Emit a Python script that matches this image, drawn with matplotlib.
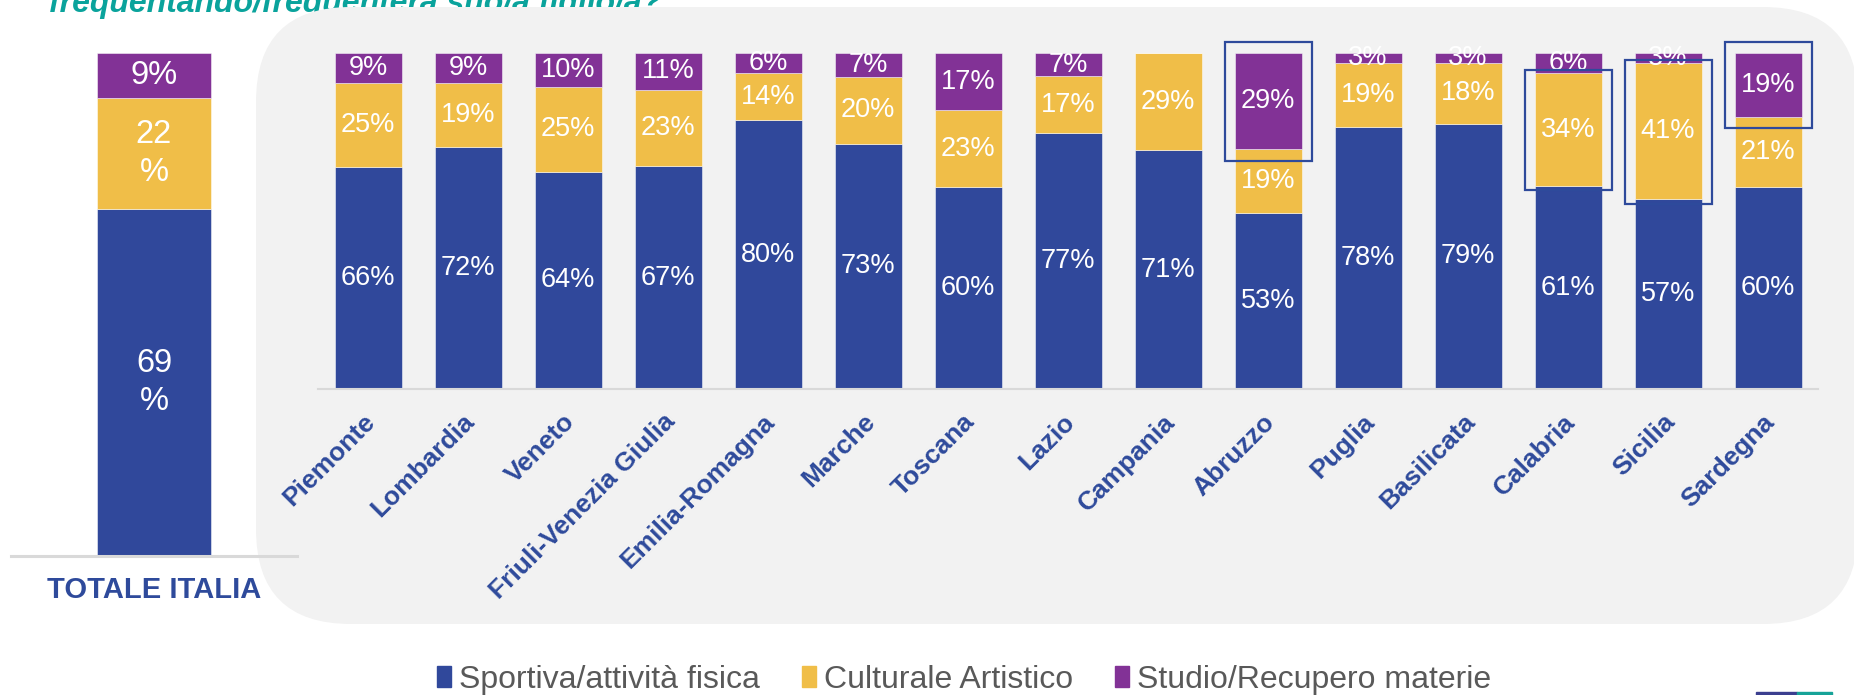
import matplotlib
matplotlib.use("Agg")
import matplotlib.pyplot as plt
import numpy as np
from matplotlib.patches import FancyBboxPatch, Rectangle, Patch
from matplotlib.transforms import IdentityTransform, ScaledTranslation

plt.rcParams['font.family'] = ['Liberation Sans', 'DejaVu Sans']

# dati
regioni = ["Piemonte", "Lombardia", "Veneto", "Friuli-Venezia Giulia", "Emilia-Romagna",
           "Marche", "Toscana", "Lazio", "Campania", "Abruzzo", "Puglia", "Basilicata",
           "Calabria", "Sicilia", "Sardegna"]
sportiva = [66, 72, 64, 67, 80, 73, 60, 77, 71, 53, 78, 79, 61, 57, 60]
culturale = [25, 19, 25, 23, 14, 20, 23, 17, 29, 19, 19, 18, 34, 41, 21]
studio = [9, 9, 10, 11, 6, 7, 17, 7, 0, 29, 3, 3, 6, 3, 19]
totale_italia = [69, 22, 9]
serie = ["Sportiva/attività fisica", "Culturale Artistico", "Studio/Recupero materie"]
evidenziati = [("Abruzzo", 2), ("Calabria", 1), ("Sicilia", 1), ("Sardegna", 2)]
titolo = "frequentando/frequenterà suo/a figlio/a?"

colori = ["#30489b", "#f0be48", "#823296"]
blu = "#2e4a9b"
W, H = 1854, 695

fig = plt.figure(figsize=(W / 100, H / 100), dpi=100)

# titolo (tagliato in alto, coperto in parte dal pannello)
fig.text(49 / W, 1 - 12 / H, titolo, fontsize=23, fontweight="bold", fontstyle="italic",
         color="#0aa39c", va="baseline", zorder=-2)

# pannello grigio arrotondato
pannello = FancyBboxPatch((256, 71), 1858 - 256, 617, boxstyle="round,pad=0,rounding_size=95",
                          transform=IdentityTransform(), fc="#f2f2f2", ec="none", zorder=-1)
fig.add_artist(pannello)

# grafico regioni
axR = fig.add_axes([318 / W, 306 / H, 1500 / W, 336 / H])
axR.patch.set_visible(False)
valori = np.array([sportiva, culturale, studio], dtype=float)
norm = valori / valori.sum(axis=0) * 100
x = np.arange(len(regioni))
base = np.zeros(len(regioni))
limiti = []
for k in range(3):
    axR.bar(x, norm[k], 0.67, bottom=base, color=colori[k], edgecolor="#ffffff80", linewidth=0.7)
    limiti.append((base.copy(), base + norm[k]))
    for i in range(len(regioni)):
        v = valori[k][i]
        if v > 0:
            axR.text(x[i], base[i] + norm[k][i] / 2, f"{int(v)}%", ha="center", va="center",
                     color="white", fontsize=19.5)
    base = base + norm[k]

for reg, k in evidenziati:
    i = regioni.index(reg)
    lo, hi = limiti[k][0][i], limiti[k][1][i]
    pt, pb = (3.2, 3.4) if k == 2 else (0.9, 1.3)
    axR.add_patch(Rectangle((i - 0.435, lo - pb), 0.87, hi - lo + pt + pb, fill=False,
                            ec=blu, lw=1.6, clip_on=False, zorder=5))

axR.set_xlim(-0.5, len(regioni) - 0.5)
axR.set_ylim(0, 100)
axR.set_yticks([])
for s in ["top", "left", "right"]:
    axR.spines[s].set_visible(False)
axR.spines["bottom"].set_color("#d9d9d9")
axR.spines["bottom"].set_linewidth(1.5)
axR.set_xticks(x, regioni, rotation=45, ha="right", va="center", rotation_mode="anchor",
               fontsize=19, fontweight="bold", color=blu)
axR.tick_params(axis="x", length=0, pad=21)
for lbl in axR.get_xticklabels():
    lbl.set_transform(lbl.get_transform() + ScaledTranslation(3 / 100, 0, fig.dpi_scale_trans))

# totale italia
axL = fig.add_axes([11 / W, 139 / H, 286 / W, 503 / H])
axL.patch.set_visible(False)
b = 0
for k in range(3):
    v = totale_italia[k]
    axL.bar(0, v, 0.8, bottom=b, color=colori[k], edgecolor="#ffffff80", linewidth=0.7)
    etichetta = f"{v}%" if v < 10 else f"{v}\n%"
    axL.text(0, b + v / 2, etichetta, ha="center", va="center", color="white", fontsize=23.5,
             linespacing=1.3)
    b += v
axL.set_xlim(-1, 1)
axL.set_ylim(0, 100)
axL.set_xticks([])
axL.set_yticks([])
for s in ["top", "left", "right"]:
    axL.spines[s].set_visible(False)
axL.spines["bottom"].set_color("#d9d9d9")
axL.spines["bottom"].set_linewidth(2.2)
fig.text(154 / W, 1 - 590 / H, "TOTALE ITALIA", ha="center", va="center", fontsize=21,
         fontweight="bold", color=blu)

# legenda
maniglie = [Patch(color=c) for c in colori]
fig.legend(maniglie, serie, loc="center", bbox_to_anchor=(0.52, 0.022), ncol=3, frameon=False,
           fontsize=23, handlelength=0.45, handleheight=0.6, handletextpad=0.25,
           columnspacing=1.3, labelcolor="#595959", borderpad=0)

# logo in basso
fig.add_artist(Rectangle((1756 / W, 0), 41 / W, 3 / H, transform=fig.transFigure, color="#3b3f8f"))
fig.add_artist(Rectangle((1797 / W, 0), 35 / W, 3 / H, transform=fig.transFigure, color="#17a398"))

fig.savefig("out.png", dpi=100)
